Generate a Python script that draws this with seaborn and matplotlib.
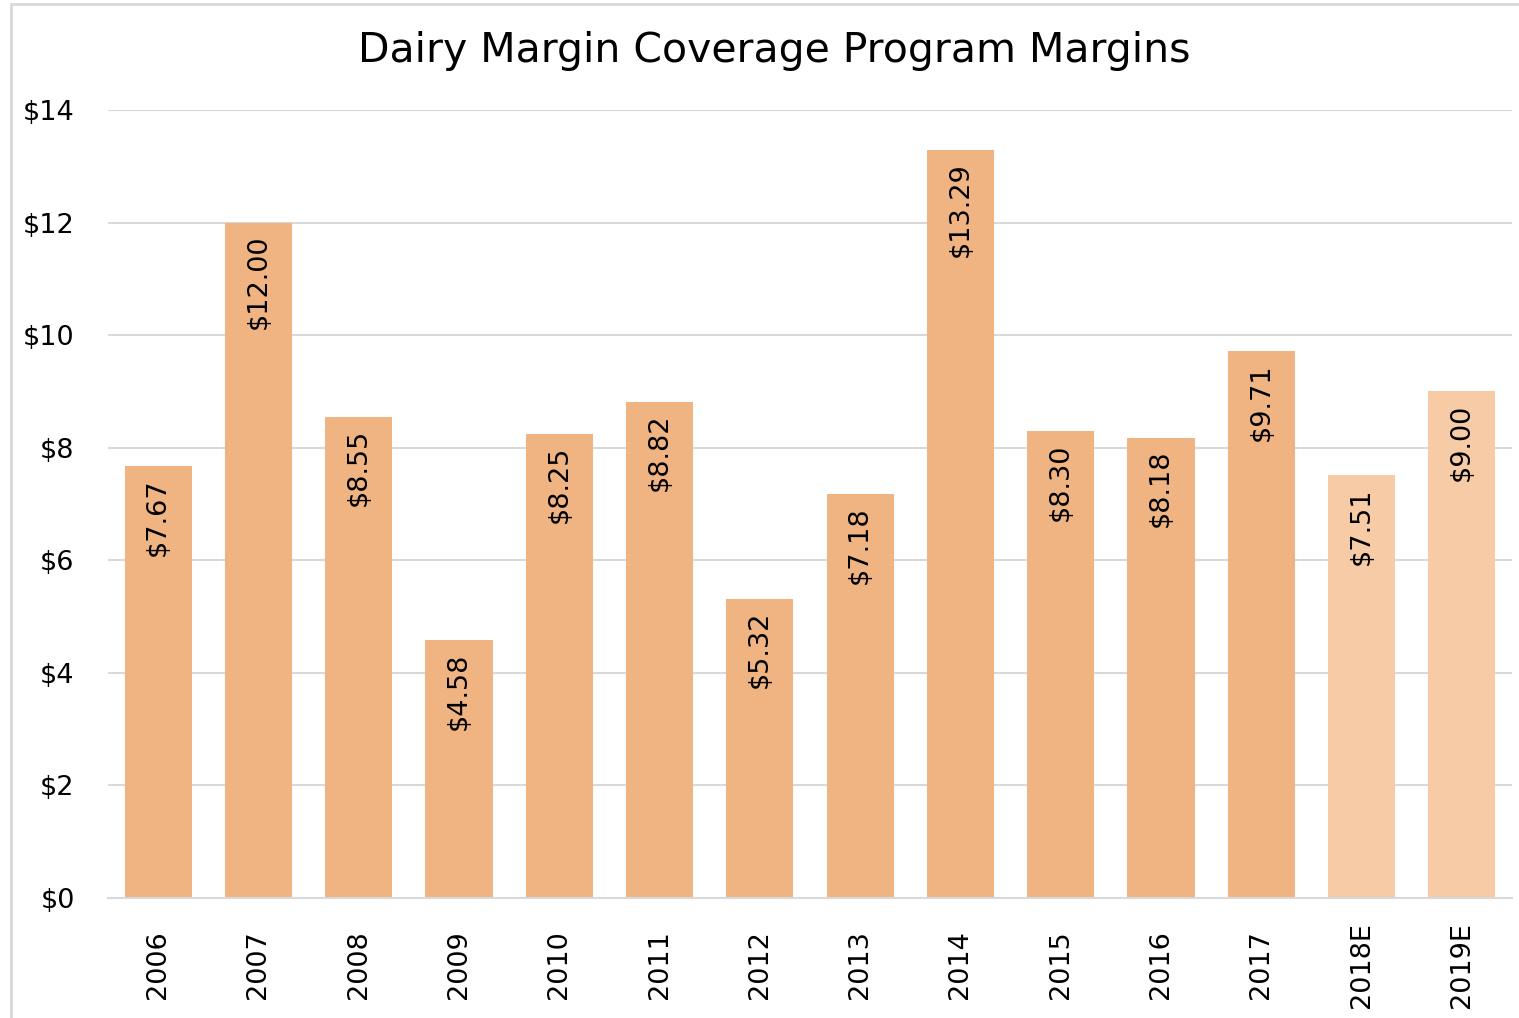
import matplotlib
matplotlib.use("Agg")
import matplotlib.pyplot as plt
import pandas as pd
import seaborn as sns
from matplotlib.patches import Rectangle

years = ["2006", "2007", "2008", "2009", "2010", "2011", "2012",
         "2013", "2014", "2015", "2016", "2017", "2018E", "2019E"]
margins = [7.67, 12.00, 8.55, 4.58, 8.25, 8.82, 5.32,
           7.18, 13.29, 8.30, 8.18, 9.71, 7.51, 9.00]
kind = ["Actual"] * 12 + ["Estimate"] * 2

df = pd.DataFrame({"year": years, "margin": margins, "kind": kind})

sns.set_style("white")
plt.rcParams["font.family"] = ["DejaVu Sans"]
plt.rcParams["text.color"] = "black"
plt.rcParams["xtick.color"] = "black"
plt.rcParams["ytick.color"] = "black"

fig = plt.figure(figsize=(15.19, 10.18), dpi=100)
ax = fig.add_axes([0.0711, 0.1179, 0.9243, 0.7741])

palette = {"Actual": "#F0B482", "Estimate": "#F6CBA6"}
sns.barplot(data=df, x="year", y="margin", hue="kind", palette=palette,
            dodge=False, width=0.67, saturation=1, legend=False, ax=ax,
            linewidth=0, zorder=2)

ax.set_ylim(0, 14)
ax.set_xlim(-0.5, len(years) - 0.5)
ax.set_yticks(range(0, 15, 2))
ax.set_yticklabels([f"${v}" for v in range(0, 15, 2)], fontsize=19.5)
ax.tick_params(axis="x", labelrotation=90, labelsize=19.5, length=0, pad=48)
for lbl in ax.get_xticklabels():
    lbl.set_verticalalignment("center")
ax.tick_params(axis="y", length=0, pad=24)
ax.yaxis.grid(True, color="#D9D9D9", linewidth=1.5, zorder=0)
ax.set_axisbelow(True)
for side in ["top", "right", "left"]:
    ax.spines[side].set_visible(False)
ax.spines["bottom"].set_color("#D9D9D9")
ax.spines["bottom"].set_linewidth(1.5)
ax.set_xlabel("")
ax.set_ylabel("")

for i, v in enumerate(margins):
    ax.text(i, v - 0.22, f"${v:.2f}", rotation=90, ha="center", va="top",
            fontsize=19.5, color="black", zorder=3)

fig.suptitle("Dairy Margin Coverage Program Margins", fontsize=29.5,
             x=0.51, y=0.95, va="center")

fig.patches.append(Rectangle((0.0075, -0.01), 1.2, 1.006, transform=fig.transFigure,
                             fill=False, edgecolor="#D9D9D9", linewidth=2))

fig.savefig("out.png", dpi=100)
